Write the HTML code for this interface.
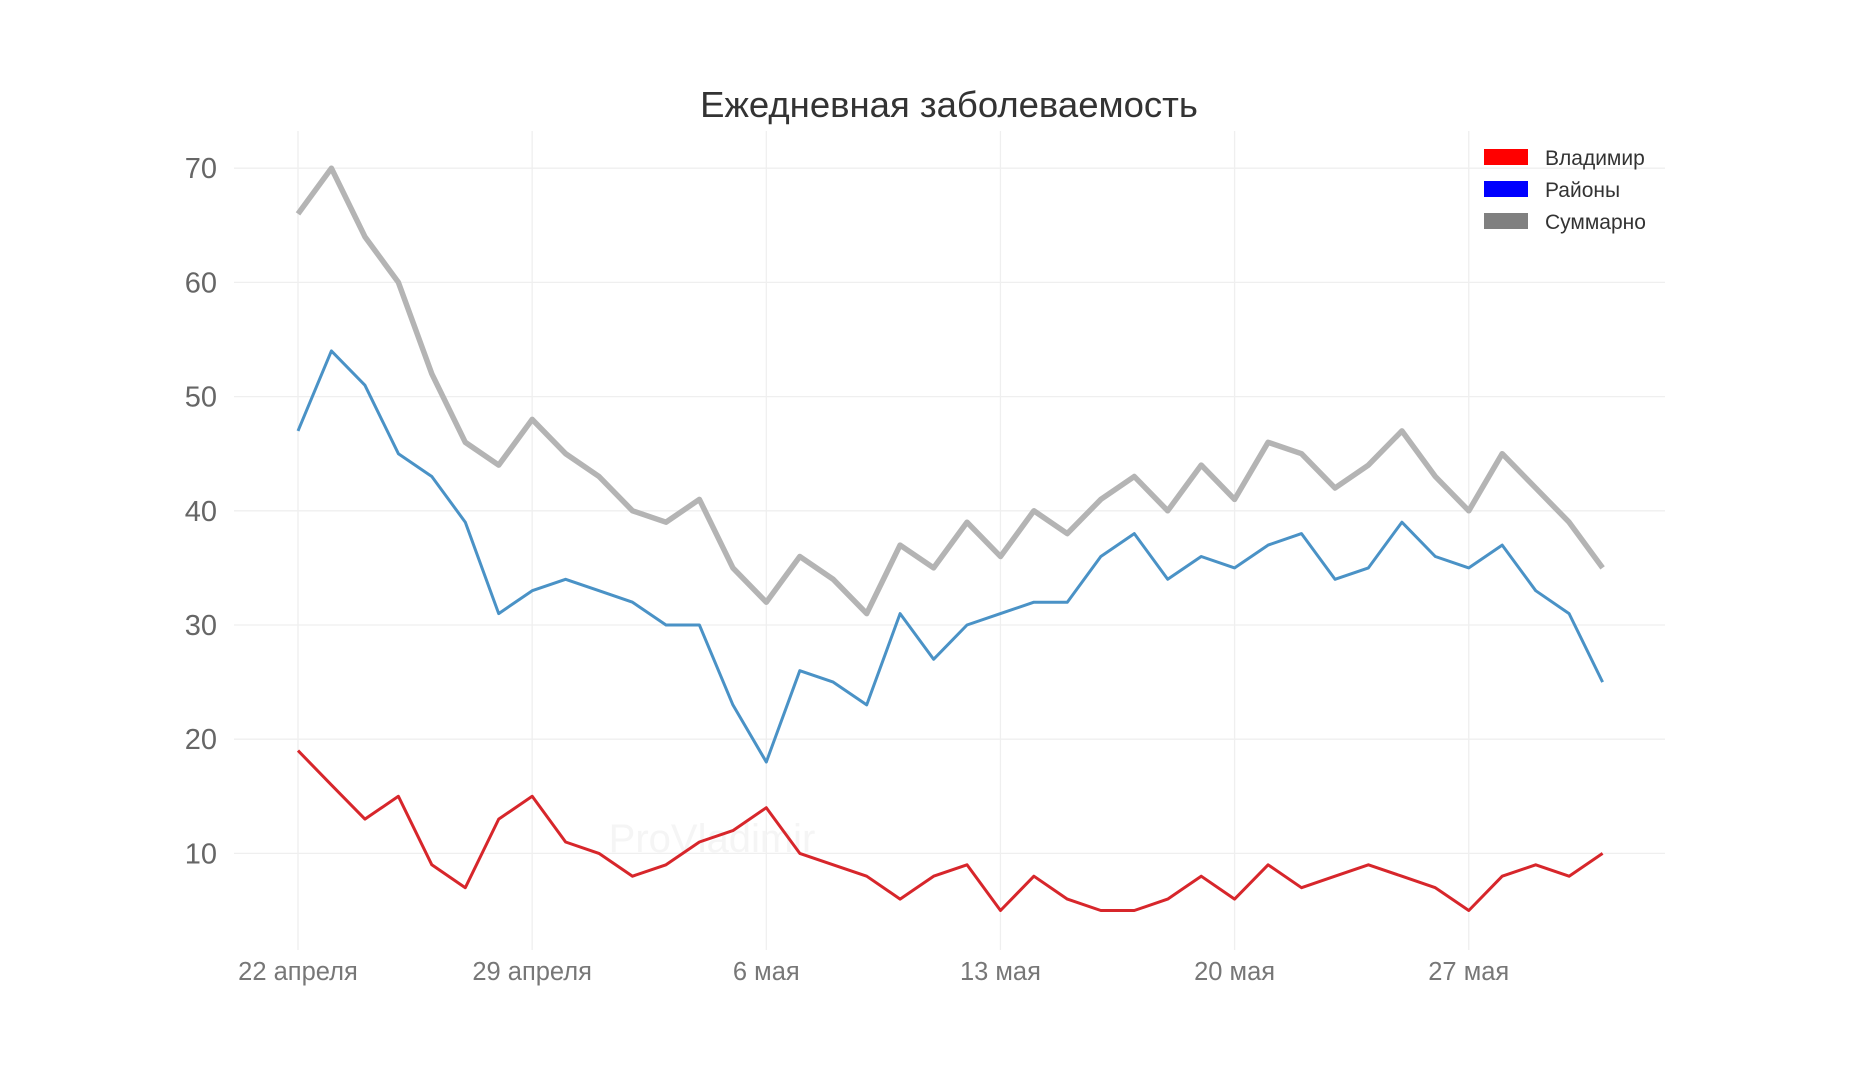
<!DOCTYPE html>
<html><head><meta charset="utf-8"><style>
html,body{margin:0;padding:0;background:#fff;}
svg{display:block;font-family:"Liberation Sans",sans-serif;}
</style></head><body>
<svg id="chart" width="1851" height="1080" viewBox="0 0 1851 1080" xmlns="http://www.w3.org/2000/svg">
<text x="949" y="117" text-anchor="middle" font-size="36.5" fill="#333">Ежедневная заболеваемость</text>
<g id="grid"></g>
<text x="712" y="852" text-anchor="middle" font-size="40" fill="#f5f5f5">ProVladimir</text>
<g id="series"></g>
<g id="axes"></g>
<g>
 <g><rect x="1484" y="149" width="44" height="16" fill="#ff0000"/><text x="1545" y="165" font-size="21" fill="#333">Владимир</text></g>
 <g><rect x="1484" y="181" width="44" height="16" fill="#0000ff"/><text x="1545" y="197" font-size="21" fill="#333">Районы</text></g>
 <g><rect x="1484" y="213" width="44" height="16" fill="#808080"/><text x="1545" y="229" font-size="21" fill="#333">Суммарно</text></g>
</g>
</svg>
<script>
const totalValues=[66,70,64,60,52,46,44,48,45,43,40,39,41,35,32,36,34,31,37,35,39,36,40,38,41,43,40,44,41,46,45,42,44,47,43,40,45,42,39,35];
const districtValues=[47,54,51,45,43,39,31,33,34,33,32,30,30,23,18,26,25,23,31,27,30,31,32,32,36,38,34,36,35,37,38,34,35,39,36,35,37,33,31,25];
const cityValues=[19,16,13,15,9,7,13,15,11,10,8,9,11,12,14,10,9,8,6,8,9,5,8,6,5,5,6,8,6,9,7,8,9,8,7,5,8,9,8,10];
const yTicks=[10,20,30,40,50,60,70];
const xTickDays=[0,7,14,21,28,35];
const xTickLabels=["22 апреля","29 апреля","6 мая","13 мая","20 мая","27 мая"];
const NS="http://www.w3.org/2000/svg";
const x0=298,dayW=33.45,plotL=234,plotR=1665,plotT=131,plotB=950;
function xs(d){return x0+d*dayW;}
function ys(v){return 168.2+(70-v)*11.42;}
function mk(tag,attrs,parent){const e=document.createElementNS(NS,tag);for(const k in attrs)e.setAttribute(k,attrs[k]);parent.appendChild(e);return e;}
const grid=document.getElementById('grid'),axes=document.getElementById('axes'),series=document.getElementById('series');
yTicks.forEach(v=>{
 const l=mk('line',{x1:plotL,x2:plotR,y1:ys(v),y2:ys(v),stroke:'#efefef','stroke-width':1.3},grid);
 
 
 const t=mk('text',{x:217,y:ys(v)+10,'text-anchor':'end','font-size':29,fill:'#666'},axes);
 t.textContent=v;
 
 
});
xTickDays.forEach((d,i)=>{
 const l=mk('line',{x1:xs(d),x2:xs(d),y1:plotT,y2:plotB,stroke:'#efefef','stroke-width':1.3},grid);
 
 
 const t=mk('text',{x:xs(d),y:980,'text-anchor':'middle','font-size':25.5,fill:'#777'},axes);
 t.textContent=xTickLabels[i];
 
 
});
function line(vals,color,w,name){
 const p=vals.map((v,i)=>(i?'L':'M')+xs(i).toFixed(1)+','+ys(v).toFixed(1)).join(' ');
 const e=mk('path',{d:p,fill:'none',stroke:color,'stroke-width':w,'stroke-linejoin':'round'},series);
 
 
}
line(totalValues,'#b4b4b4',5.5,'line-summarno');
line(districtValues,'#4a92c6',3,'line-rayony');
line(cityValues,'#d7262b',3,'line-vladimir');
</script>
</body></html>
